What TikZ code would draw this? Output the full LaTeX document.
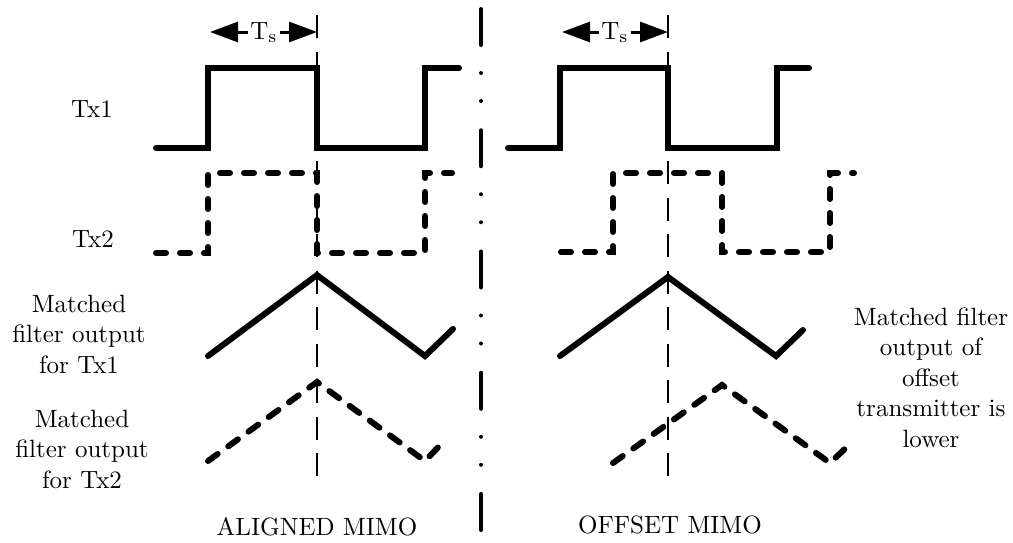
\documentclass[tikz,border=0pt]{standalone}
\usepackage{graphicx}
\usetikzlibrary{arrows.meta}
\newcommand{\lbltext}[1]{\scalebox{2.5}{\fontsize{10}{12}\selectfont\renewcommand{\arraystretch}{1.0167}\begin{tabular}[t]{@{}c@{}}#1\end{tabular}}}
\begin{document}
\begin{tikzpicture}[x=1pt,y=-1pt,
  sig/.style={line width=6pt, line cap=round, line join=miter},
  sigdash/.style={sig, dash pattern=on 10pt off 14pt},
  mfdash/.style={sig, dash pattern=on 12pt off 13pt},
  guide/.style={line width=2.2pt, dash pattern=on 23pt off 13.5pt},
  divider/.style={line width=4pt, line cap=round, dash pattern=on 36pt off 28pt on 0pt off 28pt on 0pt off 29.25pt},
  lbl/.style={inner sep=0pt, anchor=base},
  tslbl/.style={inner sep=2pt, anchor=base},
  tsarrow/.style={line width=3pt, -{Triangle[length=28pt,width=20pt]}}]
\useasboundingbox (0,0) rectangle (1013,542);

% guide lines
\draw[guide] (317,15) -- (317,476);
\draw[guide] (668,15) -- (668,477);

% divider
\draw[divider] (481,9) -- (481,531);

% Ts arrows
\coordinate (la1) at (210,32);
\coordinate (ra1) at (317,32);
\node[tslbl] (ts1) at (264,39) {\scalebox{2.5}{T$_\mathrm{s}$}};
\draw[tsarrow] (ts1.west |- la1) -- (la1);
\draw[tsarrow] (ts1.east |- ra1) -- (ra1);

\coordinate (la2) at (562,32);
\coordinate (ra2) at (668,32);
\node[tslbl] (ts2) at (615,39) {\scalebox{2.5}{T$_\mathrm{s}$}};
\draw[tsarrow] (ts2.west |- la2) -- (la2);
\draw[tsarrow] (ts2.east |- ra2) -- (ra2);

% aligned MIMO signals
\draw[sig] (156,148) -- (208,148) -- (208,68) -- (317,68) -- (317,148) -- (425,148) -- (425,68) -- (459,68);
\draw[sigdash] (156,253) -- (208,253) -- (208,173) -- (317,173) -- (317,253) -- (425,253) -- (425,173) -- (452,173);
\draw[sig] (208,356) -- (317,275) -- (425,356) -- (453,329);
\draw[mfdash] (208,461) -- (317,382) -- (425,461) -- (445,440);

% offset MIMO signals
\draw[sig] (508,148) -- (560,148) -- (560,68) -- (668,68) -- (668,148) -- (777,148) -- (777,68) -- (809,68);
\draw[sigdash] (561,252) -- (613,252) -- (613,173) -- (722,173) -- (722,252) -- (830,252) -- (830,173) -- (854,173);
\draw[sig] (560,356) -- (668,277) -- (776,356) -- (803,330);
\draw[mfdash] (613,463) -- (722,385) -- (830,463) -- (850,444);

% labels
\node[lbl] (tx1) at (92,117) {\lbltext{Tx1}};
\node[lbl] (tx2) at (93,247) {\lbltext{Tx2}};
\node[lbl] (mf1) at (79,312) {\lbltext{Matched\\filter output\\for Tx1}};
\node[lbl] (mf2) at (82,427) {\lbltext{Matched\\filter output\\for Tx2}};
\node[lbl] (mfo) at (931,325) {\lbltext{Matched filter\\output of\\offset\\transmitter is\\lower}};
\node[lbl] (al) at (317,535) {\lbltext{ALIGNED MIMO}};
\node[lbl] (of) at (670,533) {\lbltext{OFFSET MIMO}};
\end{tikzpicture}
\end{document}
